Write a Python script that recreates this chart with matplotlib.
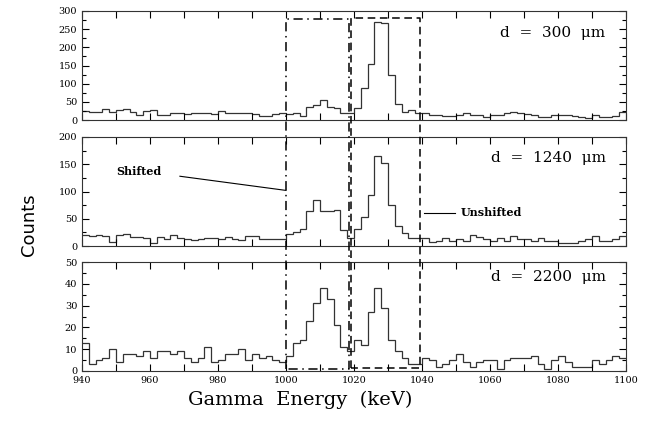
import numpy as np
import matplotlib
matplotlib.use("Agg")
import matplotlib.pyplot as plt
from matplotlib.lines import Line2D
from matplotlib.ticker import MultipleLocator

# energy bins (keV), 2 keV wide
edges = np.arange(940, 1101, 2)

counts_300 = [25, 22, 22, 31, 22, 27, 31, 22, 14, 24, 28, 14, 14, 18, 18,
              16, 18, 18, 18, 16, 24, 18, 18, 18, 18, 17, 12, 10, 16, 18,
              16, 18, 12, 37, 41, 55, 35, 32, 18, 20, 32, 89, 153, 270, 267,
              124, 44, 23, 28, 18,
              18, 14, 14, 11, 11, 14, 18, 14, 15, 9, 14, 14, 18, 23, 18,
              16, 14, 9, 9, 14, 14, 15, 11, 9, 5, 14, 9, 9, 11, 23]
counts_1240 = [20, 19, 20, 19, 8, 21, 22, 16, 16, 15, 6, 17, 13, 20, 14,
               13, 11, 13, 14, 14, 13, 17, 12, 11, 18, 18, 13, 12, 12, 12,
               22, 26, 32, 64, 84, 64, 64, 66, 30, 14, 32, 54, 93, 165, 152,
               75, 37, 23, 14, 15,
               14, 7, 9, 14, 9, 12, 9, 20, 17, 12, 9, 14, 9, 19, 12,
               12, 9, 14, 9, 10, 6, 6, 6, 9, 12, 19, 10, 10, 12, 19]
counts_2200 = [13, 3, 5, 6, 10, 4, 8, 8, 7, 9, 6, 9, 9, 8, 9,
               6, 4, 6, 11, 4, 5, 8, 8, 10, 5, 8, 6, 7, 5, 4,
               7, 13, 14, 23, 31, 38, 33, 21, 11, 9, 14, 12, 27, 38, 29,
               14, 9, 6, 3, 3,
               6, 5, 2, 3, 5, 8, 4, 2, 4, 5, 5, 1, 5, 6, 6,
               6, 7, 3, 1, 5, 7, 4, 2, 2, 2, 5, 3, 5, 7, 6]

panels = [(counts_300, 300, 50, 25, "d  =  300  \u03bcm", 239),
          (counts_1240, 200, 50, 25, "d  =  1240  \u03bcm", 161),
          (counts_2200, 50, 10, 5, "d  =  2200  \u03bcm", 43)]

# gates: (x0, x1, y bottom in lowest panel, y top in highest panel)
shifted_gate = (1000, 1018.5, 0.7, 277)
unshifted_gate = (1019.2, 1039.5, 1.5, 280)

serif = "DejaVu Serif"
fig = plt.figure(figsize=(6.46, 4.24), dpi=100)

left, width = 82 / 646, 544 / 646
tops = [11, 137, 262]
axes = []
for (vals, ymax, major, minor, label, ylab), top in zip(panels, tops):
    ax = fig.add_axes([left, 1 - (top + 109) / 424, width, 109 / 424])
    ax.stairs(vals, edges, baseline=None, color="#333333", lw=0.9)
    ax.set_xlim(940, 1100)
    ax.set_ylim(0, ymax)
    ax.xaxis.set_major_locator(MultipleLocator(20))
    ax.xaxis.set_minor_locator(MultipleLocator(10))
    ax.yaxis.set_major_locator(MultipleLocator(major))
    ax.yaxis.set_minor_locator(MultipleLocator(minor))
    ax.tick_params(which="both", direction="in", top=True, right=True,
                   labelsize=7, width=0.8)
    ax.tick_params(which="major", length=5)
    ax.tick_params(which="minor", length=5)
    ax.tick_params(axis="y", which="minor", length=3)
    for lab in ax.get_yticklabels() + ax.get_xticklabels():
        lab.set_family(serif)
    for sp in ax.spines.values():
        sp.set_linewidth(0.8)
        sp.set_color("#333333")
    ax.text(1094, ylab, label, ha="right", va="center", family=serif,
            fontsize=11)
    axes.append(ax)

for ax in axes[:2]:
    ax.tick_params(labelbottom=False)

ax_mid = axes[1]
ax_mid.text(950, 137, "Shifted", family=serif, fontweight="bold",
            fontsize=8, ha="left", va="center")
ax_mid.plot([968.8, 1000], [128, 102], color="black", lw=0.8)
ax_mid.plot([1040.5, 1049.7], [61, 61], color="black", lw=0.8)
ax_mid.text(1051.5, 61, "Unshifted", family=serif, fontweight="bold",
            fontsize=8, ha="left", va="center")

# gate boxes spanning all three panels, drawn in figure coordinates
to_fig = fig.transFigure.inverted()


def gate_box(x0, x1, ylow, yhigh, ls):
    p0 = to_fig.transform(axes[2].transData.transform((x0, ylow)))
    p1 = to_fig.transform(axes[0].transData.transform((x1, yhigh)))
    xs = [p0[0], p0[0], p1[0], p1[0], p0[0]]
    ys = [p0[1], p1[1], p1[1], p0[1], p0[1]]
    fig.lines.append(Line2D(xs, ys, transform=fig.transFigure, color="black",
                            lw=1.1, ls=ls, clip_on=False))


gate_box(*shifted_gate, ls=(0, (6, 3, 1, 3)))
gate_box(*unshifted_gate, ls=(0, (5, 3)))

fig.text(300 / 646, 1 - 400 / 424, "Gamma  Energy  (keV)", family=serif,
         fontsize=14, ha="center", va="center")
fig.text(0.045, 0.47, "Counts", rotation=90, ha="center", va="center",
         family="DejaVu Sans", fontsize=13)

fig.savefig("out.png", dpi=100)
